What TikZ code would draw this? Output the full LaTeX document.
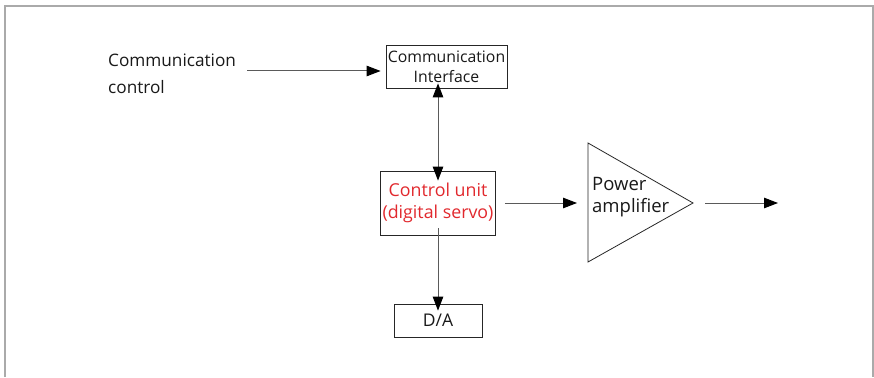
\documentclass[tikz,border=0pt]{standalone}
\usepackage{fontspec}
\setmainfont{Open Sans}
\usetikzlibrary{arrows.meta}
\definecolor{redtxt}{RGB}{225,40,45}
\definecolor{linegray}{RGB}{90,90,90}
\definecolor{framegray}{RGB}{170,170,170}
\begin{document}
\begin{tikzpicture}[x=1pt,y=-1pt,
  box/.style={draw=black!85,line width=0.8pt,inner sep=0pt},
  arr/.style={draw=linegray,line width=1pt,-{Triangle[length=14pt,width=10.5pt,fill=black,color=black]}},
  darr/.style={draw=linegray,line width=1pt,{Triangle[length=14pt,width=10.5pt,fill=black,color=black]}-{Triangle[length=14pt,width=10.5pt,fill=black,color=black]}},
  lbl/.style={font=\fontsize{17.2}{27}\selectfont,align=left,anchor=north west,inner sep=0pt},
  txtcol/.style={text=black!90}]
\useasboundingbox (0,0) rectangle (874,377);
\draw[framegray,line width=1.2pt] (5,377) -- (5,6) -- (873,6) -- (873,377);
% label
\node[lbl,txtcol] (cc) at (108,54) {Communication\\control};
\coordinate (ccend) at (247,71);
% comm interface
\node[box,txtcol,minimum width=121pt,minimum height=43pt,align=center,font=\fontsize{15.8}{20}\selectfont] (ci) at (446.5,66.5) {Communication\\Interface};
% control unit
\node[box,minimum width=115pt,minimum height=64pt,align=center,text=redtxt,font=\fontsize{17.8}{22}\selectfont] (cu) at (438,203) {Control unit\\(digital servo)};
% D/A
\node[box,txtcol,minimum width=88pt,minimum height=33pt,font=\fontsize{17.5}{20}\selectfont] (da) at (438,320.5) {D/A};
% amplifier
\draw[black!85,line width=0.8pt] (588,143) -- (693,203) -- (588,262) -- cycle;
\coordinate (ampin) at (577,203);
\coordinate (ampout) at (705,203);
\coordinate (outend) at (778,203);
\node[txtcol,font=\fontsize{18.5}{22}\selectfont,align=left,anchor=west,inner sep=0pt] (amp) at (592,197) {Power\\amplifier};
% connectors
\draw[arr] (ccend) -- ([xshift=-5pt]ccend -| ci.west);
\draw[darr] ([yshift=5pt]ci.south -| cu.north) -- ([yshift=-10pt]cu.north);
\draw[arr] ([xshift=9pt]cu.east) -- (ampin);
\draw[arr] (ampout) -- (outend);
\draw[arr] ([yshift=7pt]cu.south) -- ([yshift=-7pt]da.north);
\end{tikzpicture}
\end{document}
